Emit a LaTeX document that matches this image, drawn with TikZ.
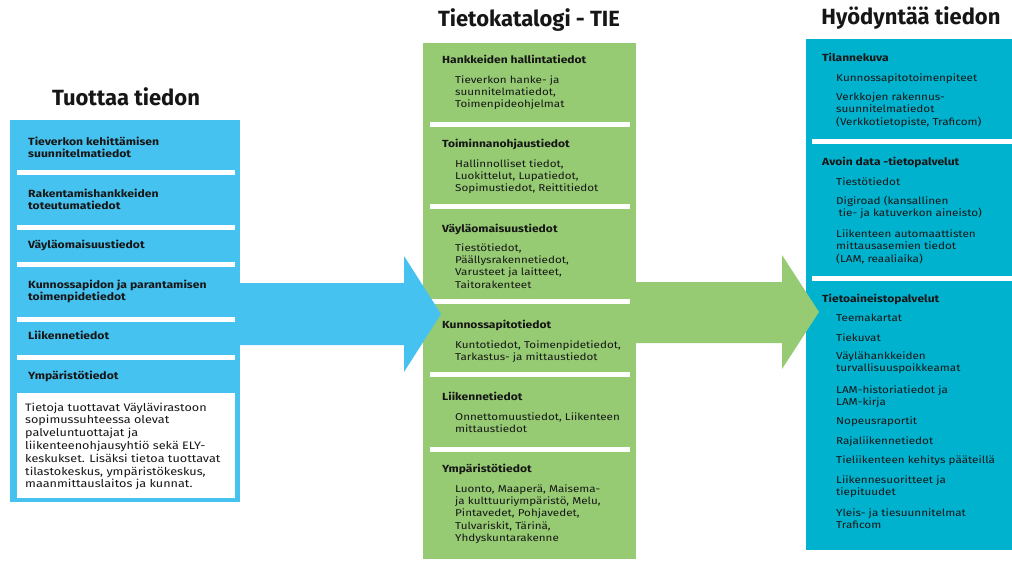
\documentclass[tikz,border=0pt]{standalone}
\usepackage{fontspec}
\setmainfont[FakeStretch=1.17]{Fira Sans}
\newfontfamily\titlefont{Fira Sans}
\usetikzlibrary{calc}
\definecolor{lblue}{RGB}{70,194,240}
\definecolor{lgreen}{RGB}{150,203,115}
\definecolor{tealbox}{RGB}{0,178,206}
\definecolor{ink}{RGB}{22,22,22}
\newcommand\mlines[1]{\begin{tabular}[t]{@{}l@{}}#1\end{tabular}}
\begin{document}
\begin{tikzpicture}[x=1pt,y=-1pt,
  panel/.style={inner sep=0pt, outer sep=0pt, anchor=north west},
  sepbar/.style={fill=white},
  ttl/.style={font=\titlefont\fontsize{22}{26}\selectfont\bfseries, text=ink, anchor=base, inner sep=0pt},
  lhead/.style={font=\fontsize{10.4}{12}\selectfont\bfseries, text=ink, anchor=base west, inner sep=0pt},
  ltext/.style={font=\fontsize{10.8}{12.83}\selectfont, text=ink, anchor=base west, inner sep=0pt},
  ghead/.style={font=\fontsize{10.3}{12}\selectfont\bfseries, text=ink, anchor=base west, inner sep=0pt},
  gtext/.style={font=\fontsize{9.95}{12.4}\selectfont, text=ink, anchor=base west, inner sep=0pt},
  rhead/.style={font=\fontsize{10.3}{12}\selectfont\bfseries, text=ink, anchor=base west, inner sep=0pt},
  rtext/.style={font=\fontsize{10}{12.7}\selectfont, text=ink, anchor=base west, inner sep=0pt}
]
\useasboundingbox (0,0) rectangle (1012,560);
\fill[white] (0,0) rectangle (1012,560);

% ---------- left panel ----------
\node[panel, fill=lblue, minimum width=230, minimum height=382] (lbox) at (10,120) {};
\fill[sepbar] (17,170) rectangle (235,175);
\fill[sepbar] (17,225) rectangle (235,230);
\fill[sepbar] (17,262) rectangle (235,267);
\fill[sepbar] (17,317) rectangle (235,322);
\fill[sepbar] (17,355) rectangle (235,360);
\node[panel, fill=white, minimum width=218, minimum height=105] (lwhite) at (17,393) {};

\node[ttl] (t1) at (126,105) {Tuottaa tiedon};
\node[lhead] (l1) at (28,145) {\mlines{Tieverkon kehittämisen\\suunnitelmatiedot}};
\node[lhead] (l2) at (28,197) {\mlines{Rakentamishankkeiden\\toteutumatiedot}};
\node[lhead] (l3) at (28,248) {Väyläomaisuustiedot};
\node[lhead] (l4) at (28,288) {\mlines{Kunnossapidon ja parantamisen\\toimenpidetiedot}};
\node[lhead] (l5) at (28,339) {Liikennetiedot};
\node[lhead] (l6) at (28,379) {Ympäristötiedot};
\node[ltext] (l7) at (25,411) {\mlines{Tietoja tuottavat Väylävirastoon\\sopimussuhteessa olevat\\palveluntuottajat ja\\liikenteenohjausyhtiö sekä ELY-\\keskukset. Lisäksi tietoa tuottavat\\tilastokeskus, ympäristökeskus,\\maanmittauslaitos ja kunnat.}};

% ---------- middle panel ----------
\node[panel, fill=lgreen, minimum width=213, minimum height=516] (gbox) at (423,43) {};
\fill[sepbar] (430,122) rectangle (630,127);
\fill[sepbar] (430,204) rectangle (630,209);
\fill[sepbar] (430,299) rectangle (630,304);
\fill[sepbar] (430,372) rectangle (630,377);
\fill[sepbar] (430,447) rectangle (630,452);

% blue arrow (left panel -> catalogue)
\coordinate (ba) at (lbox.east |- 0,314);
\fill[lblue] (ba) ++(0,-31) -- (404,283) -- (404,256) -- (441,314) -- (404,372) -- (404,345) -- (240,345) -- cycle;

\node[ttl] (t2) at (529,26) {Tietokatalogi - TIE};
\node[ghead] (g1) at (442,63) {Hankkeiden hallintatiedot};
\node[gtext] (g1i) at (455,83) {\mlines{Tieverkon hanke- ja\\suunnitelmatiedot,\\Toimenpideohjelmat}};
\node[ghead] (g2) at (442,147) {Toiminnanohjaustiedot};
\node[gtext] (g2i) at (455,167) {\mlines{Hallinnolliset tiedot,\\Luokittelut, Lupatiedot,\\Sopimustiedot, Reittitiedot}};
\node[ghead] (g3) at (442,232) {Väyläomaisuustiedot};
\node[gtext] (g3i) at (455,251) {\mlines{Tiestötiedot,\\Päällysrakennetiedot,\\Varusteet ja laitteet,\\Taitorakenteet}};
\node[ghead] (g4) at (442,328) {Kunnossapitotiedot};
\node[gtext] (g4i) at (455,348) {\mlines{Kuntotiedot, Toimenpidetiedot,\\Tarkastus- ja mittaustiedot}};
\node[ghead] (g5) at (442,400) {Liikennetiedot};
\node[gtext] (g5i) at (455,420) {\mlines{Onnettomuustiedot, Liikenteen\\mittaustiedot}};
\node[ghead] (g6) at (442,472) {Ympäristötiedot};
\node[gtext] (g6i) at (455,492) {\mlines{Luonto, Maaperä, Maisema-\\ja kulttuuriympäristö, Melu,\\Pintavedet, Pohjavedet,\\Tulvariskit, Tärinä,\\Yhdyskuntarakenne}};

% ---------- right panel ----------
\node[panel, fill=tealbox, minimum width=206, minimum height=511] (rbox) at (806,39) {};
\fill[sepbar] (812,139) rectangle (1012,144);
\fill[sepbar] (812,276) rectangle (1012,281);

% green arrow (catalogue -> right panel)
\coordinate (ga) at (gbox.east |- 0,312);
\fill[lgreen] (ga) ++(0,-30) -- (782,282) -- (782,255) -- (819,312) -- (782,369) -- (782,343) -- (636,343) -- cycle;

\node[ttl] (t3) at (911,24) {Hyödyntää tiedon};
\node[rhead] (r1) at (822,61) {Tilannekuva};
\node[rtext] (r1a) at (836,81) {Kunnossapitotoimenpiteet};
\node[rtext] (r1b) at (836,100) {\mlines{Verkkojen rakennus-\\suunnitelmatiedot\\(Verkkotietopiste, Traficom)}};
\node[rhead] (r2) at (822,165) {Avoin data -tietopalvelut};
\node[rtext] (r2a) at (836,185) {Tiestötiedot};
\node[rtext] (r2b) at (836,204) {\mlines{Digiroad (kansallinen\\\hspace{0.25em}tie- ja katuverkon aineisto)}};
\node[rtext] (r2c) at (836,237) {\mlines{Liikenteen automaattisten\\mittausasemien tiedot\\(LAM, reaaliaika)}};
\node[rhead] (r3) at (822,302) {Tietoaineistopalvelut};
\node[rtext] (r3a) at (836,321) {Teemakartat};
\node[rtext] (r3b) at (836,341) {Tiekuvat};
\node[rtext] (r3c) at (836,359) {\mlines{Väylähankkeiden\\turvallisuuspoikkeamat}};
\node[rtext] (r3d) at (836,393) {\mlines{LAM-historiatiedot ja\\LAM-kirja}};
\node[rtext] (r3e) at (836,424) {Nopeusraportit};
\node[rtext] (r3f) at (836,444) {Rajaliikennetiedot};
\node[rtext] (r3g) at (836,463) {Tieliikenteen kehitys pääteillä};
\node[rtext] (r3h) at (836,483) {\mlines{Liikennesuoritteet ja\\tiepituudet}};
\node[rtext] (r3i) at (836,516) {\mlines{Yleis- ja tiesuunnitelmat\\Traficom}};
\end{tikzpicture}
\end{document}
